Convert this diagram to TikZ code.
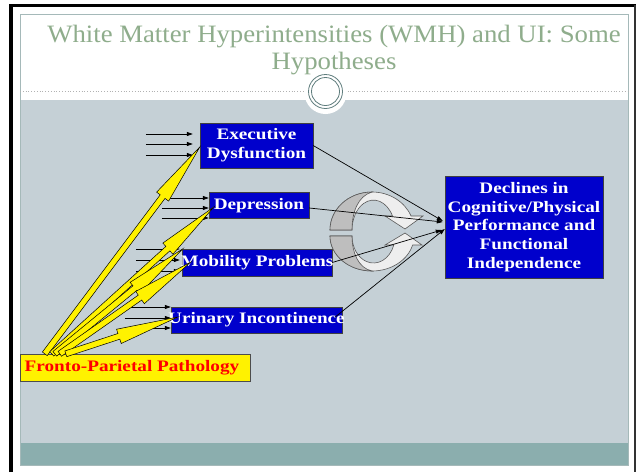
\documentclass[tikz,border=0pt]{standalone}
\usepackage{fontspec}
\setmainfont{Liberation Serif}
\newfontfamily\boxfont[FakeStretch=1.2]{Liberation Serif}
\newfontfamily\titlefont[FakeStretch=1.07]{Liberation Serif}
\usetikzlibrary{arrows.meta, calc, positioning}
\definecolor{slidebg}{RGB}{197,208,214}
\definecolor{slideband}{RGB}{139,174,174}
\definecolor{slideedge}{RGB}{165,185,185}
\definecolor{titlegreen}{RGB}{143,173,140}
\definecolor{ringteal}{RGB}{95,125,125}
\definecolor{boxblue}{RGB}{0,0,204}
\definecolor{cyclelight}{RGB}{238,238,238}
\definecolor{cycledark}{RGB}{190,190,190}

\begin{document}
\begin{tikzpicture}[x=1pt, y=-1pt,
  bluebox/.style={draw=black!75, fill=boxblue, text=white, inner sep=0pt, align=center,
    font=\boxfont\bfseries\fontsize{16}{18.7}\selectfont},
  frontobox/.style={draw=black!70, fill=yellow, text=red, inner sep=0pt,
    font=\boxfont\bfseries\fontsize{16}{18.7}\selectfont},
  inarrow/.style={-{Triangle[length=6pt,width=4pt]}, line width=0.8pt},
  outarrow/.style={-{Triangle[length=6pt,width=4pt]}, line width=0.7pt},
  fatarrow/.style={fill=yellow, draw=black, line width=0.5pt},
  cycleband/.style={fill=cyclelight, draw=black!65, line width=0.6pt},
  cycleinside/.style={fill=cycledark, draw=black!65, line width=0.6pt}]
\useasboundingbox (0,0) rectangle (637,472);
\fill [white] (0,0) rectangle (637,472);
\draw [black, line width=4pt] (11,472) -- (11,5.5);
\draw [black, line width=3pt] (9,5.5) -- (636,5.5);
\draw [black!80, line width=1.5pt] (635,5) -- (635,472);
\fill [white] (20,14) rectangle (628,465);
\fill [slidebg] (20,100) rectangle (628,443);
\fill [slideband] (20,443) rectangle (628,465);
\draw [slideedge, line width=1pt] (20,14) rectangle (628,465);
\draw [black!30, dotted, line width=0.8pt] (20,91) -- (628,91);
\fill [white] (325.5,93) circle (21);
\draw [ringteal, line width=0.8pt] (325.5,91.5) circle (17) (325.5,91.5) circle (14);
\node (title) at (334,50.5) [font=\titlefont\fontsize{25}{27}\selectfont, text=titlegreen, align=center] {White Matter Hyperintensities (WMH) and UI: Some\\Hypotheses};

\node (exec) at (256.5,145.5) [bluebox, minimum width=113, minimum height=45] {Executive\\Dysfunction};
\node (depr) at (259,205.5) [bluebox, minimum width=100, minimum height=26] {\makebox[0pt]{Depression}};
\node (mob) at (257,262.5) [bluebox, minimum width=150, minimum height=27] {\makebox[0pt]{Mobility Problems}};
\node (urin) at (256.5,320) [bluebox, minimum width=171, minimum height=26] {\makebox[0pt]{Urinary Incontinence}};
\node (decl) at (524,227) [bluebox, minimum width=158, minimum height=102] {Declines in\\Cognitive/Physical\\Performance and\\Functional\\Independence};
\node (fronto) at (135,367.5) [frontobox, minimum width=230, minimum height=27] {\makebox[0pt]{\hspace{-6pt}Fronto-Parietal Pathology}};

\filldraw [cycleband] (330,230) arc[start angle=180, end angle=338.4, x radius=42, y radius=38] -- (423,216) -- (405,229) -- (385,216) -- (392.5,216) arc[start angle=332, end angle=180, x radius=21.5, y radius=30] -- cycle;
\filldraw [cycleinside] (330,230) arc[start angle=180, end angle=270, x radius=42, y radius=38] .. controls (358,196) and (352,212) .. (352,230) -- cycle;
\filldraw [cycleband] (330,236) arc[start angle=180, end angle=14.9, x radius=42, y radius=35] -- (422,245) -- (405,233) -- (385,245) -- (393.8,245) arc[start angle=19.47, end angle=180, x radius=21.5, y radius=27] -- cycle;
\filldraw [cycleinside] (330,236) arc[start angle=180, end angle=90, x radius=42, y radius=35] .. controls (358,268) and (352,252) .. (352,236) -- cycle;

\foreach \dy in {-11.5,-1.5,9.5}
  \draw [inarrow] ([shift={(-54,\dy)}]exec.west) -- ([shift={(-7,\dy)}]exec.west);
\foreach \dy/\len in {-7.5/42, 2.5/47, 12.5/47}
  \draw [inarrow] ([shift={(-\len,\dy)}]depr.west) -- ([shift={(0,\dy)}]depr.west);
\foreach \dy in {-13.5,-2.5,8.5}
  \draw [inarrow] ([shift={(-46,\dy)}]mob.west) -- ([shift={(-2,\dy)}]mob.west);
\foreach \dy/\len in {-13/41, -2/46, 8/46}
  \draw [inarrow] ([shift={(-\len,\dy)}]urin.west) -- ([shift={(0,\dy)}]urin.west);

\draw [outarrow] (exec.east) -- ([shift={(-2,-6)}]decl.west);
\draw [outarrow] ([shift={(0,2.5)}]depr.east) -- ([shift={(-2,-5)}]decl.west);
\draw [outarrow] (mob.east) -- ([shift={(-3,3)}]decl.west);
\draw [outarrow] ([shift={(-7,-3)}]urin.east) -- ([shift={(0,2)}]decl.west);

\coordinate (fp1) at ([shift={(25,0)}]fronto.north west);
\coordinate (fp2) at ([shift={(32,0)}]fronto.north west);
\coordinate (fp3) at ([shift={(35,0)}]fronto.north west);
\coordinate (fp4) at ([shift={(40,0)}]fronto.north west);
\coordinate (fp5) at ([shift={(46,0)}]fronto.north west);
\coordinate (t1) at ([shift={(0,1.5)}]exec.west);
\coordinate (t2) at ([shift={(5,1.5)}]depr.west);
\coordinate (t3) at ([shift={(1,0)}]mob.north west);
\coordinate (t4) at ([shift={(9,-0.5)}]mob.west);
\coordinate (t5) at ([shift={(7,-3)}]urin.west);
\foreach \s/\t in {fp1/t1, fp2/t2, fp3/t3, fp4/t4, fp5/t5} {
  \coordinate (hb) at ($(\t)!62pt!(\s)$);
  \filldraw [fatarrow] ($(\s)!3pt!90:(\t)$) -- ($(hb)!3pt!-90:(\s)$) -- ($(hb)!7.5pt!-90:(\s)$) -- (\t)
    -- ($(hb)!7.5pt!90:(\s)$) -- ($(hb)!3pt!90:(\s)$) -- ($(\s)!3pt!-90:(\t)$) -- cycle;
}
\end{tikzpicture}
\end{document}
